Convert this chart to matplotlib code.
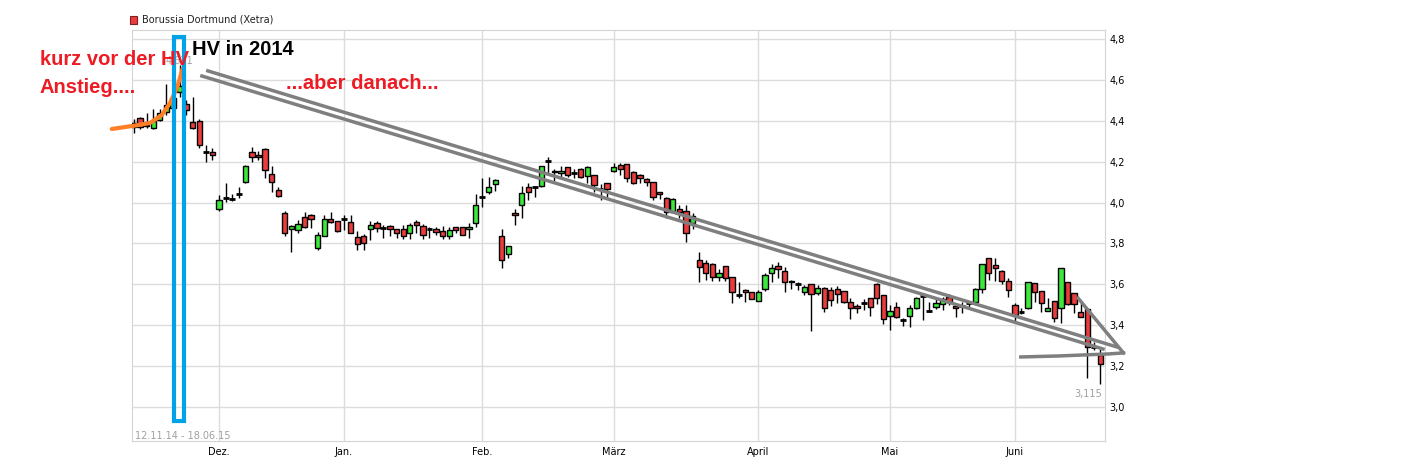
import numpy as np
import matplotlib.pyplot as plt
from matplotlib.patches import Rectangle

plt.rcParams['font.family'] = ['DejaVu Sans']

# Borussia Dortmund (Xetra), Tageskerzen 12.11.14 - 18.06.15
opens = [4.389, 4.414, 4.380, 4.365, 4.404, 4.443, 4.463, 4.541, 4.482, 4.394,
         4.399, 4.247, 4.247, 3.969, 4.022, 4.020, 4.042, 4.101, 4.247, 4.233,
         4.262, 4.140, 4.062, 3.949, 3.871, 3.866, 3.930, 3.939, 3.778, 3.837,
         3.920, 3.910, 3.920, 3.905, 3.832, 3.837, 3.871, 3.900, 3.876, 3.886,
         3.871, 3.871, 3.851, 3.905, 3.886, 3.871, 3.871, 3.861, 3.837, 3.881,
         3.881, 3.871, 3.900, 4.027, 4.052, 4.091, 3.837, 3.749, 3.949, 3.988,
         4.076, 4.076, 4.081, 4.203, 4.155, 4.145, 4.174, 4.145, 4.164, 4.130,
         4.135, 4.067, 4.096, 4.155, 4.184, 4.189, 4.150, 4.135, 4.115, 4.101,
         4.052, 4.022, 3.954, 3.969, 3.959, 3.900, 3.719, 3.705, 3.700, 3.636,
         3.690, 3.636, 3.548, 3.573, 3.563, 3.519, 3.578, 3.656, 3.690, 3.666,
         3.612, 3.602, 3.563, 3.602, 3.558, 3.582, 3.573, 3.578, 3.568, 3.514,
         3.494, 3.509, 3.533, 3.602, 3.548, 3.446, 3.490, 3.426, 3.446, 3.485,
         3.543, 3.470, 3.490, 3.504, 3.538, 3.494, 3.494, 3.509, 3.514, 3.578,
         3.729, 3.695, 3.666, 3.617, 3.499, 3.465, 3.485, 3.607, 3.568, 3.470,
         3.519, 3.485, 3.612, 3.558, 3.465, 3.480, 3.294, 3.255]
highs = [4.409, 4.419, 4.438, 4.458, 4.458, 4.580, 4.575, 4.671, 4.502, 4.516,
         4.409, 4.282, 4.267, 4.037, 4.096, 4.042, 4.076, 4.184, 4.272, 4.252,
         4.267, 4.179, 4.076, 3.959, 3.888, 3.915, 3.954, 3.942, 3.856, 3.939,
         3.954, 3.912, 3.939, 3.939, 3.861, 3.846, 3.910, 3.910, 3.890, 3.890,
         3.873, 3.890, 3.900, 3.915, 3.895, 3.881, 3.881, 3.886, 3.881, 3.883,
         3.883, 3.900, 4.042, 4.120, 4.125, 4.113, 3.871, 3.790, 3.969, 4.081,
         4.096, 4.081, 4.181, 4.223, 4.164, 4.179, 4.176, 4.164, 4.169, 4.179,
         4.137, 4.091, 4.098, 4.194, 4.194, 4.191, 4.152, 4.140, 4.120, 4.103,
         4.054, 4.025, 4.020, 3.988, 3.988, 3.949, 3.758, 3.719, 3.703, 3.675,
         3.692, 3.638, 3.612, 3.578, 3.565, 3.573, 3.656, 3.700, 3.710, 3.685,
         3.619, 3.612, 3.597, 3.604, 3.597, 3.585, 3.587, 3.592, 3.570, 3.533,
         3.504, 3.529, 3.535, 3.607, 3.550, 3.499, 3.514, 3.436, 3.499, 3.538,
         3.558, 3.514, 3.538, 3.538, 3.553, 3.496, 3.514, 3.514, 3.580, 3.702,
         3.731, 3.729, 3.668, 3.631, 3.509, 3.485, 3.614, 3.609, 3.570, 3.533,
         3.521, 3.682, 3.614, 3.560, 3.509, 3.482, 3.318, 3.289]
lows = [4.340, 4.360, 4.365, 4.360, 4.399, 4.428, 4.458, 4.516, 4.428, 4.360,
        4.267, 4.199, 4.208, 3.959, 4.003, 4.008, 4.022, 4.098, 4.199, 4.208,
        4.120, 4.052, 4.027, 3.837, 3.758, 3.851, 3.876, 3.876, 3.768, 3.835,
        3.900, 3.856, 3.866, 3.849, 3.768, 3.768, 3.817, 3.856, 3.827, 3.837,
        3.827, 3.822, 3.822, 3.851, 3.822, 3.827, 3.842, 3.822, 3.822, 3.851,
        3.840, 3.827, 3.881, 3.978, 4.042, 4.057, 3.680, 3.729, 3.890, 3.925,
        4.013, 4.027, 4.078, 4.135, 4.106, 4.120, 4.125, 4.120, 4.120, 4.096,
        4.052, 4.013, 4.027, 4.150, 4.135, 4.101, 4.091, 4.096, 4.081, 4.013,
        4.018, 3.925, 3.952, 3.925, 3.807, 3.871, 3.612, 3.621, 3.617, 3.617,
        3.617, 3.509, 3.533, 3.514, 3.527, 3.517, 3.568, 3.612, 3.631, 3.563,
        3.578, 3.573, 3.548, 3.372, 3.548, 3.465, 3.494, 3.509, 3.509, 3.431,
        3.460, 3.475, 3.446, 3.504, 3.406, 3.377, 3.436, 3.397, 3.392, 3.480,
        3.426, 3.465, 3.480, 3.475, 3.499, 3.441, 3.460, 3.490, 3.509, 3.558,
        3.621, 3.617, 3.602, 3.538, 3.411, 3.455, 3.480, 3.514, 3.465, 3.468,
        3.416, 3.411, 3.499, 3.460, 3.439, 3.142, 3.279, 3.115]
closes = [4.370, 4.370, 4.375, 4.399, 4.438, 4.477, 4.511, 4.570, 4.453, 4.365,
          4.282, 4.247, 4.233, 4.013, 4.022, 4.017, 4.042, 4.179, 4.223, 4.223,
          4.159, 4.101, 4.032, 3.851, 3.886, 3.895, 3.881, 3.920, 3.842, 3.920,
          3.905, 3.861, 3.920, 3.851, 3.798, 3.802, 3.890, 3.876, 3.876, 3.871,
          3.851, 3.837, 3.890, 3.890, 3.842, 3.871, 3.856, 3.837, 3.866, 3.866,
          3.842, 3.881, 3.988, 4.027, 4.076, 4.110, 3.719, 3.788, 3.939, 4.047,
          4.052, 4.076, 4.179, 4.203, 4.150, 4.155, 4.135, 4.145, 4.125, 4.174,
          4.086, 4.067, 4.067, 4.174, 4.164, 4.120, 4.096, 4.120, 4.101, 4.027,
          4.042, 3.954, 4.018, 3.954, 3.851, 3.934, 3.685, 3.656, 3.636, 3.656,
          3.631, 3.563, 3.548, 3.563, 3.529, 3.563, 3.646, 3.680, 3.675, 3.612,
          3.617, 3.602, 3.587, 3.553, 3.582, 3.485, 3.524, 3.553, 3.514, 3.485,
          3.485, 3.509, 3.490, 3.533, 3.431, 3.470, 3.441, 3.426, 3.485, 3.533,
          3.543, 3.470, 3.509, 3.529, 3.514, 3.485, 3.494, 3.509, 3.578, 3.700,
          3.656, 3.680, 3.617, 3.573, 3.450, 3.465, 3.612, 3.563, 3.509, 3.485,
          3.436, 3.680, 3.504, 3.504, 3.441, 3.294, 3.294, 3.211]

month_labels = ['Dez.', 'Jan.', 'Feb.', 'März', 'April', 'Mai', 'Juni']
month_pos = [13, 32, 53, 73, 95, 115, 134]   # erster Handelstag im Monat
yticks = [3.0, 3.2, 3.4, 3.6, 3.8, 4.0, 4.2, 4.4, 4.6, 4.8]

# Handgemalte Markierungen (Index, Kurs)
orange_x = [-3.3, -0.1, 2.5, 4.3, 5.55, 6.6, 7.5]
orange_y = [4.360, 4.375, 4.389, 4.428, 4.487, 4.560, 4.658]
trend1_x, trend1_y = [11.3, 149.5], [4.644, 3.294]
trend2_x, trend2_y = [10.4, 147.4], [4.619, 3.284]
tri_x, tri_y = [143.6, 150.5], [3.533, 3.265]
flat_x, flat_y = [134.9, 140.8, 148.4, 150.5], [3.245, 3.250, 3.260, 3.265]

W, H = 1402, 465
RED_T = '#ed1c24'
C_UP, C_DN = '#3ce83c', '#ea3c3c'

fig = plt.figure(figsize=(W / 100, H / 100), dpi=100)
ax = fig.add_axes([132 / W, 1 - 441 / H, (1105 - 132) / W, (441 - 30) / H])

x = np.arange(len(opens))
o, h, l, c = map(np.array, (opens, highs, lows, closes))

ax.vlines(x, l, h, color='black', lw=1, zorder=2)
body = np.abs(c - o) >= 0.004
cols = np.where(c >= o, C_UP, C_DN)
ax.bar(x[body], np.abs(c - o)[body], bottom=np.minimum(o, c)[body], width=0.8,
       color=cols[body], edgecolor='black', linewidth=1, zorder=3)
ax.hlines(c[~body], x[~body] - 0.45, x[~body] + 0.45, color='black', lw=2, zorder=3)

ax.set_xlim(-0.23, 147.7)
ax.set_ylim(2.834, 4.844)
ax.set_yticks(yticks)
ax.set_yticklabels([f'{v:.1f}'.replace('.', ',') for v in yticks])
ax.yaxis.tick_right()
ax.set_xticks(month_pos)
ax.set_xticklabels(month_labels)
ax.tick_params(axis='x', length=0, labelsize=7, pad=4)
ax.tick_params(axis='y', length=0, labelsize=7, pad=3)
ax.grid(True, color='#dcdcdc', lw=1)
ax.set_axisbelow(True)
for s in ax.spines.values():
    s.set_color('#d4d4d4')

# Hoch/Tief Beschriftung
ax.text(7, 4.69, '4,671', color='#a0a0a0', fontsize=7, ha='center', va='center', zorder=1)
ax.text(147.3, 3.065, '3,115', color='#a0a0a0', fontsize=7, ha='right', va='center')
ax.text(0.3, 2.86, '12.11.14 - 18.06.15', color='#a0a0a0', fontsize=7, ha='left', va='center')

# Markierungen
ax.plot(trend1_x, trend1_y, color='#7f7f7f', lw=2.5, clip_on=False, zorder=5)
ax.plot(trend2_x, trend2_y, color='#7f7f7f', lw=2.5, clip_on=False, zorder=5)
ax.plot(tri_x, tri_y, color='#7f7f7f', lw=2.5, clip_on=False, zorder=5)
ax.plot(flat_x, flat_y, color='#7f7f7f', lw=2.5, clip_on=False, zorder=5)
ax.plot(orange_x, orange_y, color='#ff7f27', lw=3, clip_on=False, zorder=6,
        solid_capstyle='round')
ax.add_patch(Rectangle((6.23, 2.934), 1.37, 1.878, fill=False, edgecolor='#00a2e8',
                       lw=3, clip_on=False, zorder=6))

# Legende
fig.patches.append(Rectangle((130 / W, 1 - 24 / H), 7 / W, 8 / H, transform=fig.transFigure,
                             facecolor=C_DN, edgecolor='#802020', lw=0.8))
fig.text(142 / W, 1 - 20 / H, 'Borussia Dortmund (Xetra)', fontsize=7, va='center',
         color='#222222')

txt = dict(fontsize=14.5, fontweight='bold', family=['Liberation Sans', 'DejaVu Sans'])
fig.text(40 / W, 1 - 65 / H, 'kurz vor der HV', color=RED_T, va='baseline', **txt)
fig.text(40 / W, 1 - 93 / H, 'Anstieg....', color=RED_T, va='baseline', **txt)
fig.text(192 / W, 1 - 55 / H, 'HV in 2014', color='black', va='baseline', **txt)
fig.text(286 / W, 1 - 89 / H, '...aber danach...', color=RED_T, va='baseline', **txt)

fig.savefig('out.png', dpi=100)
